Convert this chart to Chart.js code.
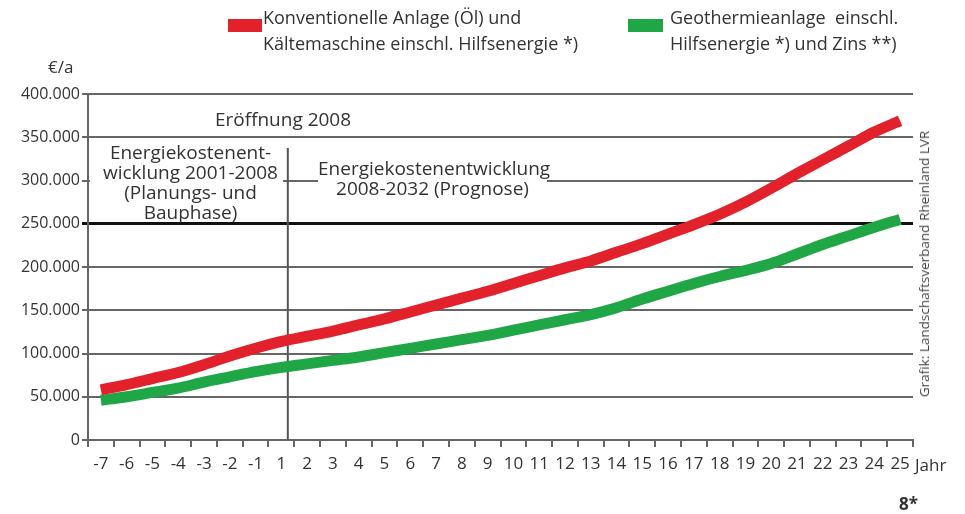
<!DOCTYPE html>
<html>
<head>
<meta charset="utf-8">
<script src="https://cdn.jsdelivr.net/npm/chart.js@4.4.1/dist/chart.umd.min.js"></script>
<style>
  body { margin: 0; background: #fff; font-family: "Open Sans", sans-serif; color: #333; }
  #wrap { position: relative; width: 965px; height: 514px; overflow: hidden; }
  #chart { position: absolute; left: 0; top: 0; }
  .txt { position: absolute; white-space: nowrap; }
  .swatch { position: absolute; height: 13px; top: 19px; }
  .legend { font-size: 18px; line-height: 26px; top: 4px; }
  .note { font-size: 19px; line-height: 20px; text-align: center; background: #fff; }
</style>
</head>
<body>
<div id="wrap">
  <canvas id="chart" width="965" height="514"></canvas>

  <!-- legend -->
  <div class="swatch" style="left:228px;width:34px;background:#e3212b"></div>
  <div class="txt legend" style="left:263px">Konventionelle Anlage (Öl) und<br>Kältemaschine einschl. Hilfsenergie *)</div>
  <div class="swatch" style="left:628px;width:35px;background:#1fa645"></div>
  <div class="txt legend" style="left:670px">Geothermieanlage&nbsp; einschl.<br>Hilfsenergie *) und Zins **)</div>

  <div class="txt" style="left:48px;top:55px;font-size:17px">€/a</div>

  <!-- period notes -->
  <div class="txt" style="left:183px;top:106px;width:200px;text-align:center;font-size:19px">Eröffnung 2008</div>
  <div class="txt note" style="left:90px;top:142px;width:185px;padding-left:8px;height:80px">Energiekostenent-<br>wicklung 2001-2008<br>(Planungs- und<br>Bauphase)</div>
  <div class="txt note" style="left:318px;top:158px;width:229px;height:40px">Energiekostenentwicklung<br>2008-2032 (Prognose)</div>

  <div class="txt" style="left:915px;top:453px;font-size:17px">Jahr</div>
  <div class="txt" style="left:899px;top:492px;font-size:17px;font-weight:bold">8*</div>
  <div class="txt" style="left:924px;top:264px;font-size:13.5px;color:#444;transform:translate(-50%,-50%) rotate(-90deg)">Grafik: Landschaftsverband Rheinland LVR</div>
</div>

<script>
// years relative to the opening in 2008 (there is no year 0)
const years = ['-7', '-6', '-5', '-4', '-3', '-2', '-1',
  '1', '2', '3', '4', '5', '6', '7', '8', '9', '10', '11', '12', '13', '14', '15',
  '16', '17', '18', '19', '20', '21', '22', '23', '24', '25'];

// €/a, conventional plant (oil) + chiller incl. auxiliary energy
const oilCost = [58000, 64000, 71000, 78000, 87000, 97000, 106000,
  114000, 120000, 126000, 133000, 140000, 148000, 156000, 164000, 172000, 181000, 190000,
  199000, 207000, 217000, 227000, 238000, 249000, 261000, 275000, 291000, 308000, 324000,
  340000, 356000, 369000];

// €/a, geothermal plant incl. auxiliary energy and interest
const geoCost = [46000, 50000, 55000, 60000, 67000, 73000, 79000,
  84000, 88000, 92000, 96000, 101000, 106000, 111000, 116000, 121000, 127000, 133000,
  139000, 145000, 153000, 163000, 172000, 181000, 189000, 196000, 204000, 215000, 226000,
  236000, 246000, 255000];

const yTicks = [0, 50000, 100000, 150000, 200000, 250000, 300000, 350000, 400000];

// opening 2008 marker sits a bit right of year 1
const openingIndex = 7.25;
const openingTop = 337500;

const openingLine = {
  id: 'openingLine',
  beforeDatasetsDraw(chart) {
    const { ctx, scales: { x, y } } = chart;
    const px = x.getPixelForValue(openingIndex);
    ctx.save();
    ctx.strokeStyle = '#555';
    ctx.lineWidth = 2;
    ctx.beginPath();
    ctx.moveTo(px, y.getPixelForValue(openingTop));
    ctx.lineTo(px, y.getPixelForValue(0));
    ctx.stroke();
    ctx.restore();
  }
};

const fmt = v => v === 0 ? '0' : v.toLocaleString('de-DE');

new Chart(document.getElementById('chart'), {
  type: 'line',
  data: {
    labels: years,
    datasets: [
      { label: 'Konventionelle Anlage', data: oilCost, borderColor: '#e3212b', borderWidth: 11,
        pointRadius: 0, tension: 0.3, borderCapStyle: 'butt' },
      { label: 'Geothermieanlage', data: geoCost, borderColor: '#1fa645', borderWidth: 11,
        pointRadius: 0, tension: 0.3, borderCapStyle: 'butt' }
    ]
  },
  options: {
    responsive: false,
    animation: false,
    layout: { padding: { top: 94, right: 52, left: 0, bottom: 0 } },
    plugins: { legend: { display: false }, tooltip: { enabled: false } },
    scales: {
      x: {
        offset: true,
        grid: { offset: true, drawOnChartArea: false, color: '#666', lineWidth: 2, tickLength: 7 },
        border: { color: '#666', width: 2 },
        ticks: { color: '#333', font: { family: 'Open Sans', size: 17 }, padding: 7, maxRotation: 0, autoSkip: false },
        afterFit(s) { s.height = 74; }
      },
      y: {
        min: 0, max: 400000,
        afterBuildTicks(s) { s.ticks = yTicks.map(v => ({ value: v })); },
        grid: {
          color: c => c.tick && c.tick.value === 250000 ? '#111' : '#666',
          lineWidth: c => c.tick && c.tick.value === 250000 ? 3 : 2,
          tickLength: 6
        },
        border: { color: '#666', width: 2 },
        ticks: { color: '#333', font: { family: 'Open Sans', size: 16 }, padding: 2, callback: fmt },
        afterFit(s) { s.width = 88; }
      }
    }
  },
  plugins: [openingLine]
});
</script>
</body>
</html>
